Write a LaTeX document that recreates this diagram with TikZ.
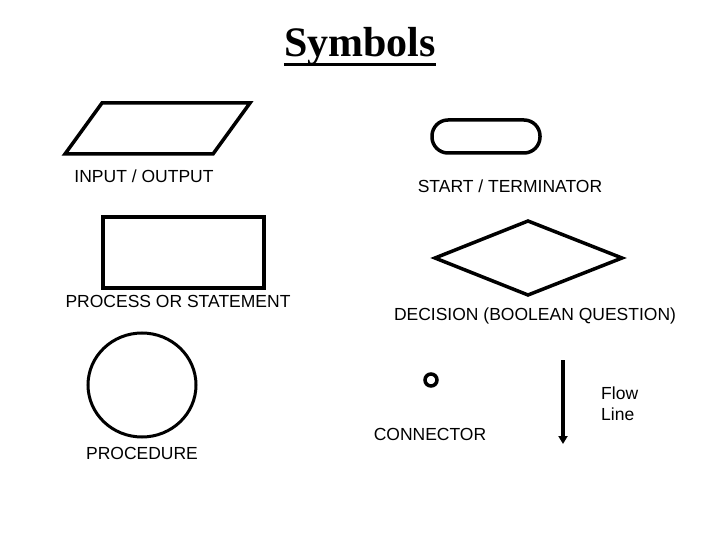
\documentclass[tikz,border=0pt]{standalone}
\usepackage{fontspec}
\setmainfont{Liberation Sans}
\newfontfamily\titlefont{Liberation Serif}
\usetikzlibrary{arrows.meta,shapes.geometric}
\begin{document}
\begin{tikzpicture}[x=1pt,y=-1pt,
  symb/.style={draw=black,line width=3.5pt},
  lbl/.style={font=\fontsize{17.5}{21}\selectfont,inner sep=0pt,anchor=base}]
\useasboundingbox (0,0) rectangle (720,540);
% title
\node[font=\titlefont\bfseries\fontsize{42}{46}\selectfont,inner sep=0pt,anchor=base] (title) at (360,57) {Symbols};
\draw[line width=3pt] ([yshift=-8pt]title.base west) -- ([yshift=-8pt]title.base east);
% input/output
\draw[symb,line join=miter] (102,103) -- (250,103) -- (213,154) -- (65,154) -- cycle;
\node[lbl] (io) at (144,183) {INPUT / OUTPUT};
% terminator
\draw[symb,rounded corners=16pt] (432,120) rectangle (540,153);
\node[lbl] (term) at (510,193) {START / TERMINATOR};
% process
\draw[symb] (103,217) rectangle (264,288);
\node[lbl] (proc) at (178,307) {PROCESS OR STATEMENT};
% decision
\draw[symb] (435,258) -- (528,221) -- (622,258) -- (528,295) -- cycle;
\node[lbl] (dec) at (535,320) {DECISION (BOOLEAN QUESTION)};
% procedure
\draw[symb,line width=3pt] (142,385) ellipse [x radius=54, y radius=52];
\node[lbl] (pr) at (142,459) {PROCEDURE};
% connector
\draw[symb,line width=3.5pt] (431,380) circle [radius=6];
\node[lbl] (con) at (430,440) {CONNECTOR};
% flow line
\coordinate (fa) at (563,360);
\coordinate (fb) at (563,444);
\draw[line width=4pt,-{Triangle[width=9pt,length=8pt]}] (fa) -- (fb);
\node[lbl,anchor=base west] (flow1) at (601,399) {Flow};
\node[lbl,anchor=base west] (flow2) at (601,420) {Line};
\end{tikzpicture}
\end{document}
